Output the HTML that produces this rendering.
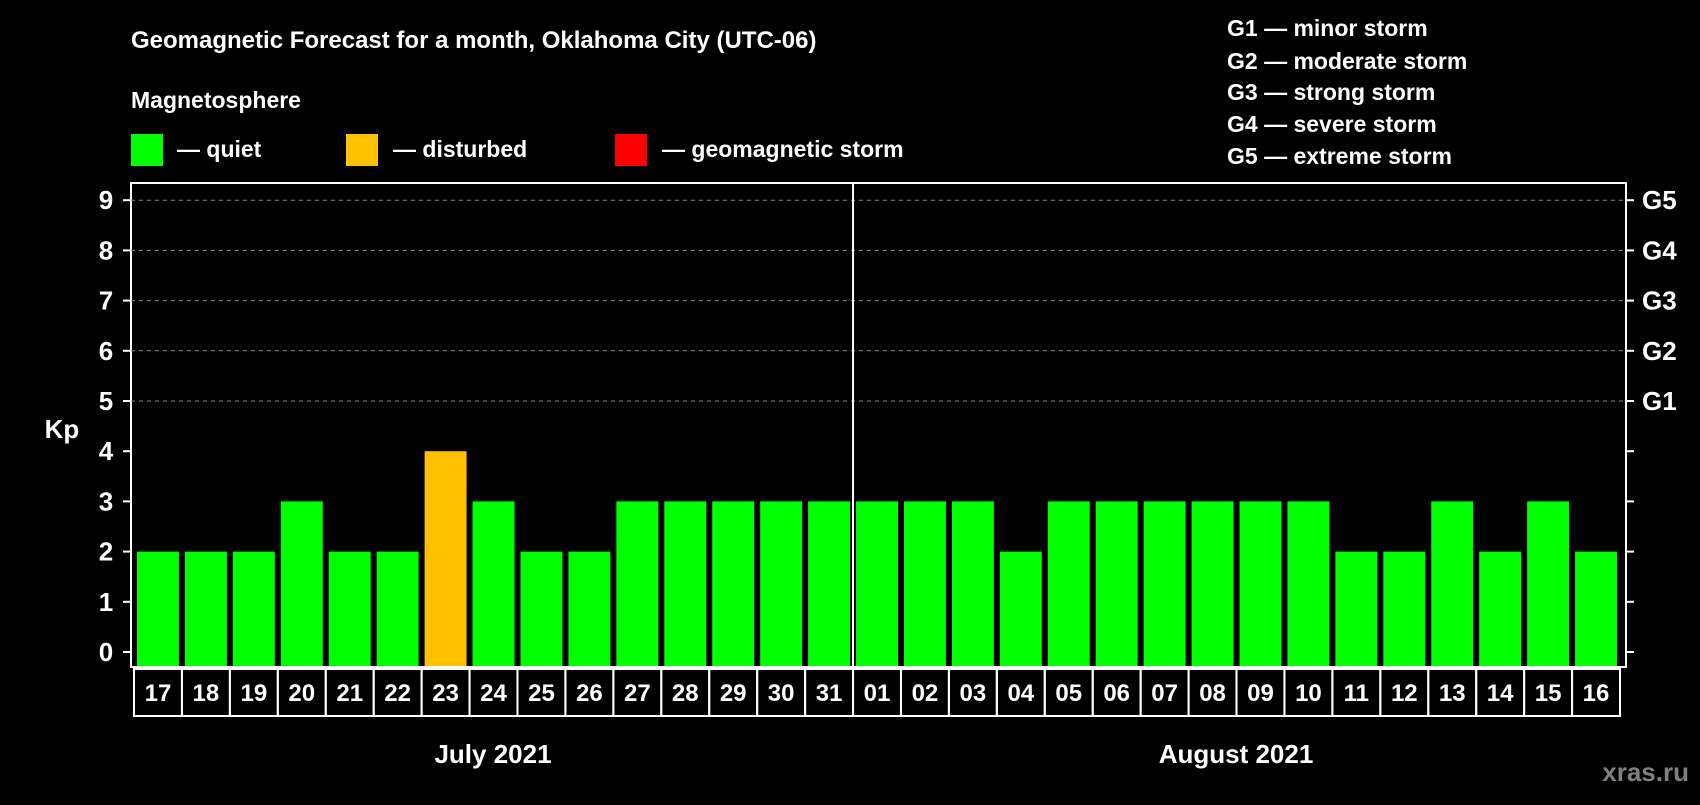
<!DOCTYPE html>
<html><head><meta charset="utf-8"><style>
body{margin:0;background:#000;width:1700px;height:800px;overflow:hidden;font-family:"Liberation Sans",Arial,sans-serif;font-weight:bold;color:#fff}
svg text{font-family:"Liberation Sans",Arial,sans-serif;font-weight:bold;fill:#fff}
</style></head><body>
<svg id="c" width="1700" height="800" xmlns="http://www.w3.org/2000/svg">
<text x="131" y="48" font-size="24">Geomagnetic Forecast for a month, Oklahoma City (UTC-06)</text>
<text x="131" y="108" font-size="23">Magnetosphere</text>
<rect x="131" y="134" width="32" height="32" fill="#00ff00"/>
<text x="177" y="157" font-size="23">— quiet</text>
<rect x="346" y="134" width="32" height="32" fill="#ffc000"/>
<text x="393" y="157" font-size="23">— disturbed</text>
<rect x="615" y="134" width="32" height="32" fill="#ff0000"/>
<text x="662" y="157" font-size="23">— geomagnetic storm</text>
<g font-size="23">
<text x="1227" y="36">G1 — minor storm</text>
<text x="1227" y="69">G2 — moderate storm</text>
<text x="1227" y="100">G3 — strong storm</text>
<text x="1227" y="132">G4 — severe storm</text>
<text x="1227" y="164">G5 — extreme storm</text>
</g>
<text x="62" y="438" font-size="26" text-anchor="middle">Kp</text>
<text x="493" y="763" font-size="26" text-anchor="middle">July 2021</text>
<text x="1236" y="763" font-size="26" text-anchor="middle">August 2021</text>
<text x="1689" y="781" font-size="26" text-anchor="end" fill="#888" style="fill:#808080">xras.ru</text>
<g id="plot"></g>
</svg>
<script>
const days=["17","18","19","20","21","22","23","24","25","26","27","28","29","30","31","01","02","03","04","05","06","07","08","09","10","11","12","13","14","15","16"];
const kp=[2,2,2,3,2,2,4,3,2,2,3,3,3,3,3,3,3,3,2,3,3,3,3,3,3,2,2,3,2,3,2];
const yTicks=[0,1,2,3,4,5,6,7,8,9];
const gLabels=["G1","G2","G3","G4","G5"];
const gLevels=[5,6,7,8,9];
const NS="http://www.w3.org/2000/svg";
const g=document.getElementById('plot');
const L=131,R=1626,T=183,B=667,X0=134,X1=1620;
const slot=(X1-X0)/days.length;
const y=v=>652-v*50.2;
const x=i=>X0+i*slot;
function mk(t,a){const e=document.createElementNS(NS,t);for(const k in a)e.setAttribute(k,a[k]);g.appendChild(e);return e;}
const frame=mk('rect',{x:L,y:T,width:R-L,height:B-T,fill:'none',stroke:'#fff','stroke-width':2});


yTicks.forEach(v=>{
  if(v>=5){const gl=mk('line',{x1:L,x2:R,y1:y(v),y2:y(v),stroke:'#888','stroke-dasharray':'4,4','stroke-width':1});
  
  }
  mk('line',{x1:L-8,x2:L,y1:y(v),y2:y(v),stroke:'#fff','stroke-width':2});
  mk('line',{x1:R,x2:R+8,y1:y(v),y2:y(v),stroke:'#fff','stroke-width':2});
  const t=mk('text',{x:106,y:y(v)+9,'font-size':26,'text-anchor':'middle'});t.textContent=v;
  
  
});
gLabels.forEach((s,i)=>{const t=mk('text',{x:1642,y:y(gLevels[i])+9,'font-size':26});t.textContent=s;
  
  });
kp.forEach((v,i)=>{
  const c=v>=5?'#ff0000':v>=4?'#ffc000':'#00ff00';
  const b=mk('rect',{x:x(i)+3,y:y(v),width:slot-6,height:B-1-y(v),fill:c});
  
  
  const bx=mk('rect',{x:x(i),y:669,width:slot,height:47,fill:'none',stroke:'#fff','stroke-width':2});
  
  
  const t=mk('text',{x:x(i)+slot/2,y:701,'font-size':24,'text-anchor':'middle'});t.textContent=days[i];
  
  
});
const mi=days.indexOf("01");
const d=mk('line',{x1:x(mi),x2:x(mi),y1:T,y2:B,stroke:'#fff','stroke-width':2});


</script>
</body></html>
